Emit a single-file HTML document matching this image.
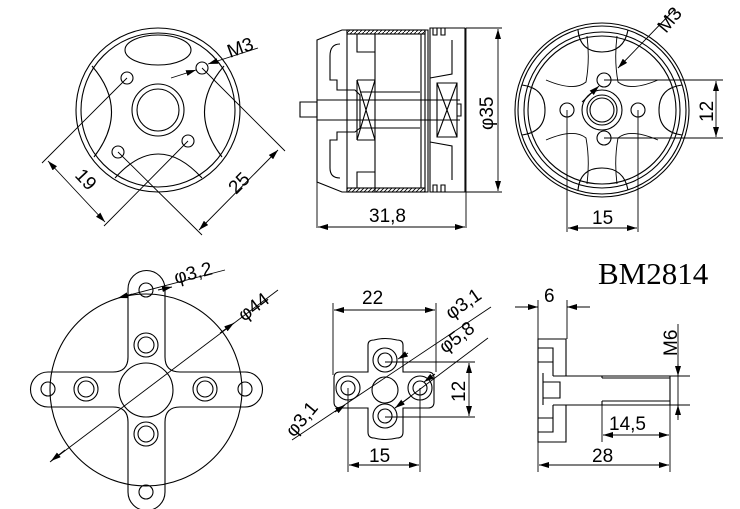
<!DOCTYPE html>
<html><head><meta charset="utf-8"><style>
html,body{margin:0;padding:0;background:#fff;}
svg{display:block;}
text{font-family:"Liberation Sans","DejaVu Sans",sans-serif;font-size:19px;fill:#000;}
</style></head><body>
<svg width="740" height="509" viewBox="0 0 740 509" xmlns="http://www.w3.org/2000/svg">
<defs>
<marker id="a" viewBox="0 0 10 6" refX="10" refY="3" markerWidth="10" markerHeight="6" orient="auto-start-reverse" markerUnits="userSpaceOnUse"><path d="M0,0L10,3L0,6z" fill="#000"/></marker>
<pattern id="h" width="4" height="4" patternUnits="userSpaceOnUse"><path d="M0,4L4,0" stroke="#000" stroke-width="0.8"/></pattern>
</defs>
<g fill="none" stroke="#000" stroke-width="1.1">
<!-- Drawing 1 -->
<circle cx="158" cy="110" r="82"/>
<circle cx="158" cy="110" r="77"/>
<circle cx="158" cy="110" r="26"/>
<circle cx="158" cy="110" r="21"/>
<ellipse cx="158" cy="50" rx="33" ry="15"/>
<path d="M92,66 Q130,110 94,157"/>
<path d="M224,66 Q186,110 222,157"/>
<path d="M115,178 Q158,130 202,178"/>
<circle cx="127" cy="78" r="6"/><circle cx="202" cy="68" r="6"/>
<circle cx="118" cy="152" r="6"/><circle cx="188" cy="141" r="6"/>
<path d="M127,78L42,163 M188,141L104,226 M202,68L285,151 M118,152L202,235" stroke-width="0.9"/>
<path d="M48,161L105,222" marker-start="url(#a)" marker-end="url(#a)" stroke-width="0.9"/>
<path d="M199,230L278,150" marker-start="url(#a)" marker-end="url(#a)" stroke-width="0.9"/>
<path d="M171,78L196,70" marker-end="url(#a)" stroke-width="0.9"/>
<path d="M258,48L208,64" marker-end="url(#a)" stroke-width="0.9"/>
<!-- Drawing 2: side view -->
<path d="M300,102H317V117H300Z"/>
<path d="M317,40L342,30H428V192H342L317,182Z"/>
<rect x="347" y="30" width="78" height="4" fill="url(#h)"/>
<rect x="347" y="188" width="78" height="4" fill="url(#h)"/>
<path d="M347,30V192 M357,34V52H375V34 M357,188V172H375V188 M375,34V192 M425,30V192 M421,34V188"/>
<path d="M340,44Q330,44 330,56V80H337V90H355L360,95V128L355,132H337V140H330V168Q330,178 340,178"/>
<path d="M357,80H375 M357,140H375 M357,80V140"/>
<path d="M357,80L375,140 M375,80L357,140"/>
<path d="M317,100H460 M317,120H460 M360,92H420 M360,128H420"/>
<path d="M430,28H465V192H430Z"/>
<path d="M433,28V35H437V28 M441,28V35H445V28 M433,192V185H437V192 M441,192V185H445V192"/>
<path d="M430,78L452,74V40 M430,142L452,146V180"/>
<path d="M437,83H457V137H437Z M437,83L457,137 M457,83L437,137"/>
<path d="M457,104H461V116H457"/>
<path d="M466,28V200 M466,28H502 M466,192H502 M317,182V228 M466,192V228" stroke-width="0.9"/>
<path d="M498,29V191" marker-start="url(#a)" marker-end="url(#a)" stroke-width="0.9"/>
<path d="M318,227H465" marker-start="url(#a)" marker-end="url(#a)" stroke-width="0.9"/>
<!-- Drawing 3 -->
<circle cx="602" cy="110" r="87"/>
<circle cx="602" cy="110" r="84"/>
<circle cx="602" cy="110" r="78"/>
<circle cx="602" cy="110" r="74"/>
<circle cx="602" cy="110" r="20"/>
<circle cx="602" cy="110" r="15"/>
<circle cx="602" cy="110" r="12"/>
<path d="M578,30Q580,52 602,52Q624,52 628,30"/>
<path d="M578,190Q580,168 602,168Q624,168 628,190"/>
<path d="M522,85Q545,88 545,110Q545,132 522,135"/>
<path d="M682,85Q659,88 659,110Q659,132 682,135"/>
<path d="M587,36Q590,60 586,82Q574,92 546,80 M617,36Q614,60 618,82Q630,92 658,80 M546,140Q574,128 586,138Q590,160 587,184 M658,140Q630,128 618,138Q614,160 617,184" stroke-width="0.9"/>
<circle cx="604" cy="80" r="7"/><circle cx="567" cy="110" r="7"/>
<circle cx="638" cy="110" r="7"/><circle cx="604" cy="138" r="7"/>
<path d="M604,80H723 M604,138H723 M567,110V232 M638,110V232" stroke-width="0.9"/>
<path d="M716,81V137" marker-start="url(#a)" marker-end="url(#a)" stroke-width="0.9"/>
<path d="M568,228H637" marker-start="url(#a)" marker-end="url(#a)" stroke-width="0.9"/>
<path d="M582,102L599,86" marker-end="url(#a)" stroke-width="0.9"/>
<path d="M674,10L618,68" marker-end="url(#a)" stroke-width="0.9"/>
<!-- Drawing 4 -->
<circle cx="146" cy="390" r="96"/>
<path d="M128,289A18,18 0 0 1 165,289V357Q165,372 180,372H245A17,17 0 0 1 245,407H180Q165,407 165,422V492A18,18 0 0 1 128,492V422Q128,407 113,407H48A17,17 0 0 1 48,372H113Q128,372 128,357Z"/>
<circle cx="146" cy="390" r="27"/>
<circle cx="146" cy="345" r="12"/><circle cx="146" cy="345" r="8"/>
<circle cx="86" cy="389" r="12"/><circle cx="86" cy="389" r="8"/>
<circle cx="205" cy="389" r="12"/><circle cx="205" cy="389" r="8"/>
<circle cx="146" cy="434" r="12"/><circle cx="146" cy="434" r="8"/>
<circle cx="146" cy="290" r="7"/><circle cx="146" cy="492" r="7"/>
<circle cx="48" cy="389" r="7"/><circle cx="245" cy="389" r="7"/>
<path d="M118,298L225,270" stroke-width="0.9"/>
<path d="M118,298L132,294" marker-start="url(#a)" stroke-width="0.9"/>
<path d="M158,290L172,287" marker-end="url(#a)" stroke-width="0.9"/>
<path d="M50,462L278,290" stroke-width="0.9"/>
<path d="M65,450L51,461" marker-end="url(#a)" stroke-width="0.9"/>
<path d="M220,333L234,323" marker-end="url(#a)" stroke-width="0.9"/>
<!-- Drawing 5 -->
<path d="M368,345Q368,340 374,340Q385,337 397,340Q403,340 403,345V372H428Q434,372 434,378V402Q434,408 428,408H403V432Q403,438 397,438Q385,441 374,438Q368,438 368,432V408H340Q334,408 334,402V378Q334,372 340,372H368Z"/>
<circle cx="385" cy="390" r="13"/>
<circle cx="385" cy="360" r="12"/><circle cx="385" cy="360" r="7"/>
<circle cx="348" cy="388" r="12"/><circle cx="348" cy="388" r="7"/>
<circle cx="420" cy="388" r="12"/><circle cx="420" cy="388" r="7"/>
<circle cx="385" cy="416" r="12"/><circle cx="385" cy="416" r="7"/>
<path d="M333,303V375 M436,303V372 M348,388V472 M420,388V472 M385,362H475 M385,417H475" stroke-width="0.9"/>
<path d="M334,310H435" marker-start="url(#a)" marker-end="url(#a)" stroke-width="0.9"/>
<path d="M349,465H419" marker-start="url(#a)" marker-end="url(#a)" stroke-width="0.9"/>
<path d="M469,363V416" marker-start="url(#a)" marker-end="url(#a)" stroke-width="0.9"/>
<path d="M292,440L491,307" stroke-width="0.9"/>
<path d="M335,412L345,405" marker-end="url(#a)" stroke-width="0.9"/>
<path d="M408,353L398,359" marker-end="url(#a)" stroke-width="0.9"/>
<path d="M395,408L488,338" stroke-width="0.9"/>
<path d="M395,408L410,397" marker-start="url(#a)" stroke-width="0.9"/>
<path d="M435,374L424,382" marker-end="url(#a)" stroke-width="0.9"/>
<!-- Drawing 6 -->
<path d="M566,376V339H538V442H566V405"/>
<path d="M538,348H553V376 M538,362H553 M538,432H553V405 M538,418H553"/>
<path d="M543,373V405 M543,382H560V398H543"/>
<path d="M553,376H670V405H553"/>
<path d="M602,378H670 M602,401H670 M602,376V378 M602,401V405"/>
<path d="M538,300V339 M567,300V339 M538,442V472 M670,405V472 M602,405V442 M670,376H690 M670,405H690" stroke-width="0.9"/>
<path d="M515,307H538 M567,307H590" stroke-width="0.9"/>
<path d="M524,307H538" marker-end="url(#a)" stroke-width="0.9"/>
<path d="M581,307H567" marker-end="url(#a)" stroke-width="0.9"/>
<path d="M539,465H669" marker-start="url(#a)" marker-end="url(#a)" stroke-width="0.9"/>
<path d="M603,435H669" marker-start="url(#a)" marker-end="url(#a)" stroke-width="0.9"/>
<path d="M678,324V420" stroke-width="0.9"/>
<path d="M678,364V376" marker-end="url(#a)" stroke-width="0.9"/>
<path d="M678,418V405" marker-end="url(#a)" stroke-width="0.9"/>
</g>
<!-- Labels -->
<text transform="translate(230,58) rotate(-20)">M3</text>
<text transform="translate(74,176) rotate(47)">19</text>
<text transform="translate(236,195) rotate(-45)">25</text>
<text transform="translate(493,130) rotate(-90)">φ35</text>
<text x="369" y="222">31,8</text>
<text transform="translate(666,34) rotate(-50)">M3</text>
<text transform="translate(713,122) rotate(-90)">12</text>
<text x="592" y="224">15</text>
<text transform="translate(176,284) rotate(-15)">φ3,2</text>
<text transform="translate(244,322) rotate(-37)">φ44</text>
<text x="362" y="304">22</text>
<text transform="translate(451,320) rotate(-35)">φ3,1</text>
<text transform="translate(445,354) rotate(-37)">φ5,8</text>
<text transform="translate(294,438) rotate(-50)">φ3,1</text>
<text transform="translate(465,402) rotate(-90)">12</text>
<text x="369" y="462">15</text>
<text x="544" y="302">6</text>
<text transform="translate(677,356) rotate(-90)">M6</text>
<text x="609" y="430">14,5</text>
<text x="592" y="462">28</text>
<text x="598" y="284" style="font-family:'Liberation Serif',serif;font-size:31px;">BM2814</text>
</svg>
</body></html>
